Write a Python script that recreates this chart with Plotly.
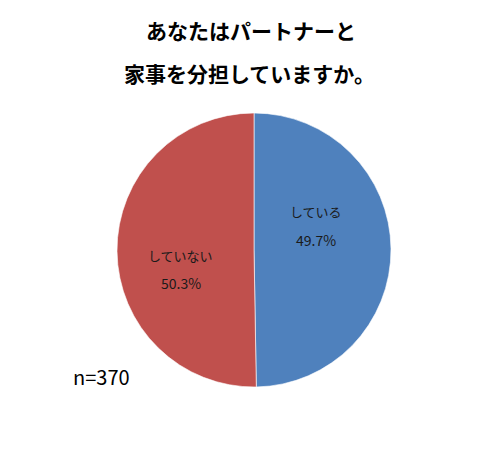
import plotly.graph_objects as go

labels = ["している", "していない"]
values = [184, 186]          # n=370
colours = ["#4F81BD", "#C0504D"]
pct_text = ["49.7%", "50.3%"]
n_total = 370

W, H = 503, 449
OFF = 8  # page body margin


def px(x):
    return (x - OFF) / W


def py(y):
    return 1 - (y - OFF) / H


# label / percent centres inside the slices (pixel coords of the picture)
label_xy = [(316, 212), (180, 256)]
pct_xy = [(316, 240), (181, 283)]

fig = go.Figure(go.Pie(
    labels=labels,
    values=values,
    sort=False,
    direction="clockwise",
    rotation=0,
    marker=dict(colors=colours, line=dict(color="white", width=0.6)),
    textinfo="none",
    hoverinfo="label+percent",
    showlegend=False,
    domain=dict(x=[px(117), px(391)], y=[py(387), py(113)]),
))

font_jp = "Noto Sans CJK JP"

annotations = [
    dict(text="<b>あなたはパートナーと</b>", x=px(251), y=py(30)),
    dict(text="<b>家事を分担していますか。</b>", x=px(249), y=py(73)),
]
for a in annotations:
    a["font"] = dict(family=font_jp, size=21, color="black")

annotations.append(dict(text=f"n={n_total}", x=px(71), y=py(376), xanchor="left",
                        font=dict(family=font_jp, size=20, color="black")))

for lab, pct, (lx, ly), (qx, qy) in zip(labels, pct_text, label_xy, pct_xy):
    annotations.append(dict(text=lab, x=px(lx), y=py(ly),
                            font=dict(family=font_jp, size=13, color="#1a1a1a")))
    annotations.append(dict(text=pct, x=px(qx), y=py(qy),
                            font=dict(family=font_jp, size=14, color="#1a1a1a")))

for a in annotations:
    a.update(xref="paper", yref="paper", showarrow=False, yanchor="middle")
    a.setdefault("xanchor", "center")

fig.update_layout(
    width=W,
    height=H,
    margin=dict(l=0, r=0, t=0, b=0),
    paper_bgcolor="white",
    annotations=annotations,
)

fig.write_html("out.html")
